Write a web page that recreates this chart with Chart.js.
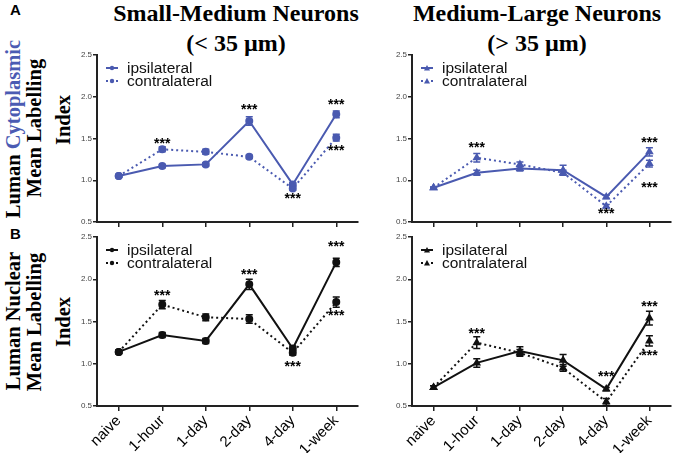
<!DOCTYPE html>
<html>
<head>
<meta charset="utf-8">
<script src="https://cdn.jsdelivr.net/npm/chart.js@4.4.1/dist/chart.umd.min.js"></script>
<style>
  body { margin: 0; background: #fff; }
  #wrap { position: relative; width: 677px; height: 453px; background: #fff; overflow: hidden; }
  .abs { position: absolute; }
  .title { font-family: "Liberation Serif", "DejaVu Serif", serif; font-weight: bold; font-size: 24px; text-align: center; line-height: 30px; color: #000; width: 320px; }
  .ylab { font-family: "Liberation Serif", "DejaVu Serif", serif; font-weight: bold; font-size: 20.5px; color: #000; white-space: nowrap; transform: translate(-50%, -50%) rotate(-90deg); }
  .panel { font-family: "Liberation Sans", Arial, sans-serif; font-weight: bold; font-size: 15px; color: #000; }
  canvas { position: absolute; }
</style>
</head>
<body>
<div id="wrap">
  <div class="abs panel" style="left:10px;top:1px;">A</div>
  <div class="abs panel" style="left:10px;top:225px;">B</div>

  <div class="abs title" style="left:76px;top:-2px;">Small-Medium Neurons<br>(&lt; 35 µm)</div>
  <div class="abs title" style="left:377px;top:-2px;">Medium-Large Neurons<br>(&gt; 35 µm)</div>

  <div class="abs ylab" style="left:13px;top:129px;">Luman <span style="color:#4b5bb3">Cytoplasmic</span></div>
  <div class="abs ylab" style="left:34px;top:128px;">Mean Labelling</div>
  <div class="abs ylab" style="left:63px;top:120px;">Index</div>

  <div class="abs ylab" style="left:13px;top:321px;">Luman Nuclear</div>
  <div class="abs ylab" style="left:34px;top:322px;">Mean Labelling</div>
  <div class="abs ylab" style="left:63px;top:322px;">Index</div>

  <canvas id="c1" width="292" height="180" style="left:72px;top:48px;"></canvas>
  <canvas id="c2" width="290" height="180" style="left:387px;top:48px;"></canvas>
  <canvas id="c3" width="292" height="223" style="left:72px;top:230px;"></canvas>
  <canvas id="c4" width="290" height="223" style="left:387px;top:230px;"></canvas>
</div>
<script>
// categories and y axis
const categories = ["naive", "1-hour", "1-day", "2-day", "4-day", "1-week"];
const yMin = 0.5;
const yMax = 2.5;
const yStep = 0.5;
const seriesNames = ["ipsilateral", "contralateral"];

// A: cytoplasmic, small-medium neurons
const cytoSmallIpsi = [1.05, 1.17, 1.19, 1.71, 0.95, 1.79];
const cytoSmallIpsiErr = [0.01, 0.02, 0.02, 0.05, 0.02, 0.04];
const cytoSmallContra = [1.05, 1.37, 1.34, 1.28, 0.9, 1.51];
const cytoSmallContraErr = [0.01, 0.03, 0.03, 0.02, 0.02, 0.04];
const cytoSmallStars = [[1, 1.47], [3, 1.87], [4, 0.81], [5, 1.93], [5, 1.38]];

// A: cytoplasmic, medium-large neurons
const cytoLargeIpsi = [0.91, 1.09, 1.14, 1.12, 0.8, 1.34];
const cytoLargeIpsiErr = [0.01, 0.03, 0.03, 0.06, 0.02, 0.05];
const cytoLargeContra = [0.91, 1.27, 1.19, 1.09, 0.69, 1.2];
const cytoLargeContraErr = [0.01, 0.05, 0.03, 0.03, 0.02, 0.04];
const cytoLargeStars = [[1, 1.42], [4, 0.63], [5, 1.48], [5, 0.94]];

// B: nuclear, small-medium neurons
const nucSmallIpsi = [1.14, 1.34, 1.27, 1.94, 1.18, 2.2];
const nucSmallIpsiErr = [0.02, 0.03, 0.03, 0.06, 0.03, 0.05];
const nucSmallContra = [1.14, 1.7, 1.55, 1.53, 1.13, 1.73];
const nucSmallContraErr = [0.02, 0.05, 0.04, 0.05, 0.03, 0.06];
const nucSmallStars = [[1, 1.83], [3, 2.08], [4, 1.0], [5, 2.41], [5, 1.6]];

// B: nuclear, medium-large neurons
const nucLargeIpsi = [0.72, 1.01, 1.15, 1.04, 0.7, 1.54];
const nucLargeIpsiErr = [0.02, 0.05, 0.05, 0.07, 0.02, 0.08];
const nucLargeContra = [0.72, 1.25, 1.13, 0.95, 0.55, 1.27];
const nucLargeContraErr = [0.02, 0.07, 0.04, 0.04, 0.04, 0.06];
const nucLargeStars = [[1, 1.38], [4, 0.88], [5, 1.7], [5, 1.13]];

const BLUE = "#4a5ab0";
const BLACK = "#111";

// error bars drawn from dataset.errors
const errorBars = {
  id: "errorBars",
  afterDatasetsDraw(chart) {
    const ctx = chart.ctx;
    const yScale = chart.scales.y;
    chart.data.datasets.forEach((ds, i) => {
      const meta = chart.getDatasetMeta(i);
      ctx.save();
      ctx.strokeStyle = ds.borderColor;
      ctx.lineWidth = 1.5;
      meta.data.forEach((pt, j) => {
        const err = ds.errors[j];
        const top = yScale.getPixelForValue(ds.data[j] + err);
        const bot = yScale.getPixelForValue(ds.data[j] - err);
        ctx.beginPath();
        ctx.moveTo(pt.x, top);
        ctx.lineTo(pt.x, bot);
        ctx.moveTo(pt.x - 3.5, top);
        ctx.lineTo(pt.x + 3.5, top);
        ctx.moveTo(pt.x - 3.5, bot);
        ctx.lineTo(pt.x + 3.5, bot);
        ctx.stroke();
      });
      ctx.restore();
    });
  },
};

// significance stars
const starMarks = {
  id: "starMarks",
  afterDraw(chart, args, opts) {
    const ctx = chart.ctx;
    ctx.save();
    ctx.fillStyle = "#000";
    ctx.font = "bold 14px 'Liberation Sans', Arial, sans-serif";
    ctx.textAlign = "center";
    ctx.textBaseline = "middle";
    opts.marks.forEach((m) => {
      const x = chart.scales.x.getPixelForValue(m[0]);
      const y = chart.scales.y.getPixelForValue(m[1]);
      ctx.fillText("***", x, y + 3);
    });
    ctx.restore();
  },
};

// legend with line + marker
const lineLegend = {
  id: "lineLegend",
  afterDraw(chart) {
    const ctx = chart.ctx;
    const area = chart.chartArea;
    ctx.save();
    chart.data.datasets.forEach((ds, i) => {
      const y = area.top + 13 + i * 13;
      const x0 = area.left + 9;
      ctx.strokeStyle = ds.borderColor;
      ctx.lineWidth = 2;
      ctx.setLineDash(ds.borderDash || []);
      ctx.beginPath();
      ctx.moveTo(x0, y);
      ctx.lineTo(x0 + 12, y);
      ctx.stroke();
      ctx.setLineDash([]);
      ctx.fillStyle = ds.borderColor;
      ctx.beginPath();
      if (ds.pointStyle === "triangle") {
        ctx.moveTo(x0 + 6, y - 3);
        ctx.lineTo(x0 + 9, y + 2.5);
        ctx.lineTo(x0 + 3, y + 2.5);
        ctx.closePath();
      } else {
        ctx.arc(x0 + 6, y, 2.2, 0, Math.PI * 2);
      }
      ctx.fill();
      ctx.fillStyle = "#111";
      ctx.font = "15.5px 'Liberation Sans', Arial, sans-serif";
      ctx.textAlign = "left";
      ctx.textBaseline = "middle";
      ctx.fillText(ds.label, area.left + 30, y + 1);
    });
    ctx.restore();
  },
};

function makeChart(id, color, pointStyle, ipsi, ipsiErr, contra, contraErr, stars, showLabels) {
  const ctx = document.getElementById(id).getContext("2d");
  return new Chart(ctx, {
    type: "line",
    data: {
      labels: categories,
      datasets: [
        {
          label: seriesNames[0],
          data: ipsi,
          errors: ipsiErr,
          borderColor: color,
          backgroundColor: color,
          borderWidth: 2,
          pointStyle: pointStyle,
          pointRadius: 3,
          tension: 0,
        },
        {
          label: seriesNames[1],
          data: contra,
          errors: contraErr,
          borderColor: color,
          backgroundColor: color,
          borderWidth: 2,
          borderDash: [2, 3],
          pointStyle: pointStyle,
          pointRadius: 3,
          tension: 0,
        },
      ],
    },
    options: {
      responsive: false,
      animation: false,
      layout: { padding: { top: 7, right: 4, left: 0, bottom: 0 } },
      plugins: {
        legend: { display: false },
        tooltip: { enabled: false },
        starMarks: { marks: stars },
      },
      scales: {
        x: {
          offset: true,
          afterFit: (scale) => {
            scale.height = showLabels ? 47 : 6;
          },
          border: { color: "#222", width: 2 },
          grid: { drawOnChartArea: false, offset: false, color: "#222", lineWidth: 1.5, tickLength: 5 },
          ticks: {
            display: showLabels,
            maxRotation: 45,
            minRotation: 45,
            color: "#000",
            padding: 1,
            font: { family: "'Liberation Sans', Arial, sans-serif", size: 15 },
          },
        },
        y: {
          min: yMin,
          max: yMax,
          afterFit: (scale) => {
            scale.width = 25;
          },
          border: { color: "#222", width: 2 },
          grid: { drawOnChartArea: false, color: "#222", lineWidth: 1.5, tickLength: 4 },
          ticks: {
            stepSize: yStep,
            padding: 1,
            color: "#444",
            font: { family: "'Liberation Sans', Arial, sans-serif", size: 8 },
            callback: (v) => v.toFixed(1),
          },
        },
      },
    },
    plugins: [errorBars, starMarks, lineLegend],
  });
}

makeChart("c1", BLUE, "circle", cytoSmallIpsi, cytoSmallIpsiErr, cytoSmallContra, cytoSmallContraErr, cytoSmallStars, false);
makeChart("c2", BLUE, "triangle", cytoLargeIpsi, cytoLargeIpsiErr, cytoLargeContra, cytoLargeContraErr, cytoLargeStars, false);
makeChart("c3", BLACK, "circle", nucSmallIpsi, nucSmallIpsiErr, nucSmallContra, nucSmallContraErr, nucSmallStars, true);
makeChart("c4", BLACK, "triangle", nucLargeIpsi, nucLargeIpsiErr, nucLargeContra, nucLargeContraErr, nucLargeStars, true);
</script>
</body>
</html>
